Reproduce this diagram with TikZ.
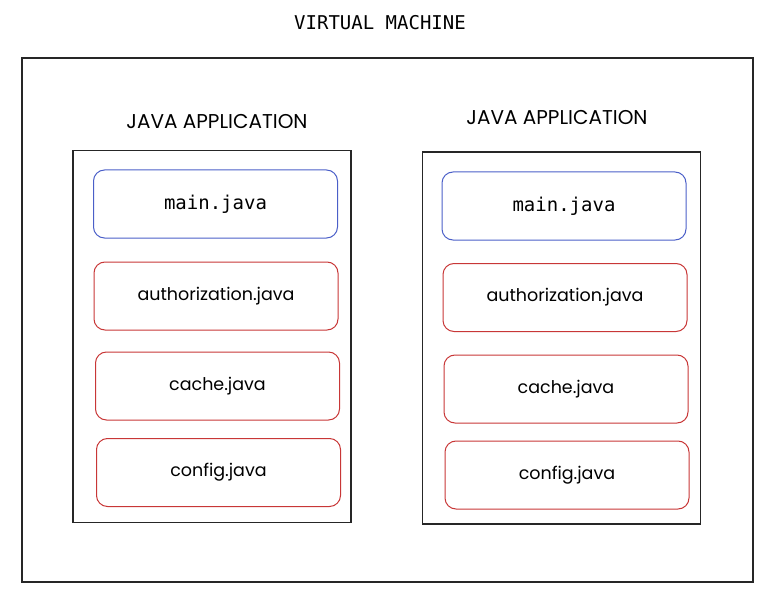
\documentclass[tikz,border=0pt]{standalone}
\usepackage{fontspec}
\setmainfont{Poppins}
\setmonofont{DejaVu Sans Mono}
\usetikzlibrary{positioning}

\definecolor{mainblue}{RGB}{75,95,200}
\definecolor{filered}{RGB}{200,55,55}

\begin{document}
\begin{tikzpicture}[
    x=1pt, y=-1pt,
    % Block styles
    vmbox/.style={
        rectangle,
        draw=black!85,
        line width=1.3pt,
        minimum width=731pt,
        minimum height=524pt
    },
    appbox/.style={
        rectangle,
        draw=black!85,
        line width=1.2pt,
        minimum width=278pt,
        minimum height=372pt
    },
    mainblock/.style={
        rectangle,
        draw=mainblue,
        line width=1pt,
        rounded corners=11pt,
        minimum width=244pt,
        minimum height=68pt,
        font=\ttfamily\fontsize{19}{22}\selectfont
    },
    fileblock/.style={
        rectangle,
        draw=filered,
        line width=1pt,
        rounded corners=11pt,
        minimum width=244pt,
        minimum height=68pt,
        font=\fontsize{17.5}{20}\selectfont
    },
    apptitle/.style={font=\fontsize{20}{24}\selectfont},
    vmtitle/.style={font=\ttfamily\fontsize{19}{22}\selectfont}
]
\useasboundingbox (0,0) rectangle (777,607);

% Virtual machine
\node[vmbox] (vm) at (387.5,320) {};
\node[vmtitle] (vm_title) at (380,23) {VIRTUAL MACHINE};

% Left application
\node[appbox] (app_left) at (212,336.5) {};
\node[apptitle] (title_left) at (217,122) {JAVA APPLICATION};
\node[mainblock] (main_left) at (215.5,204) {main.java};
\node[fileblock] (auth_left) at (216,296) {authorization.java};
\node[fileblock] (cache_left) at (217.5,386) {cache.java};
\node[fileblock] (config_left) at (218.5,472.5) {config.java};

% Right application
\node[appbox] (app_right) at (561.5,338) {};
\node[apptitle] (title_right) at (557,118) {JAVA APPLICATION};
\node[mainblock] (main_right) at (564,206) {main.java};
\node[fileblock] (auth_right) at (565,297.5) {authorization.java};
\node[fileblock] (cache_right) at (566,389) {cache.java};
\node[fileblock] (config_right) at (567,475) {config.java};

\end{tikzpicture}
\end{document}
